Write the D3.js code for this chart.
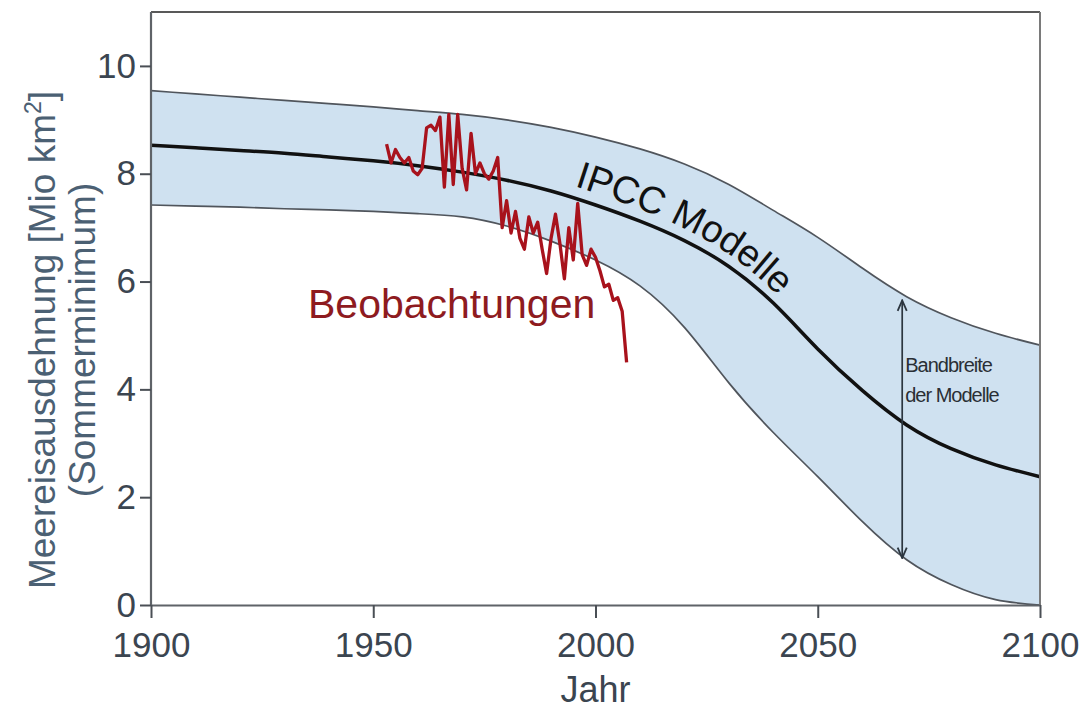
<!DOCTYPE html>
<html><head><meta charset="utf-8">
<script src="https://cdn.jsdelivr.net/npm/d3@7"></script>
<style>
body{margin:0;background:#fff}
svg{display:block}
text{font-family:"Liberation Sans",Arial,Helvetica,sans-serif}
</style>
</head><body>
<svg id="chart" width="1088" height="724"></svg>
<script>
// ---- data ----
const modelYears   = [1900,1910,1920,1930,1940,1950,1960,1970,1980,1990,2000,2010,2020,2030,2040,2050,2060,2070,2080,2090,2100];
const upperBand    = [9.54,9.48,9.42,9.36,9.30,9.24,9.17,9.10,9.00,8.86,8.68,8.46,8.18,7.80,7.32,6.82,6.25,5.72,5.33,5.04,4.82];
const centralModel = [8.53,8.48,8.43,8.38,8.31,8.24,8.15,8.03,7.88,7.68,7.42,7.12,6.76,6.28,5.60,4.75,3.98,3.34,2.90,2.60,2.38];
const lowerBand    = [7.42,7.40,7.38,7.35,7.33,7.30,7.26,7.20,7.03,6.75,6.40,5.92,5.15,4.12,3.20,2.38,1.55,0.84,0.38,0.10,0.00];

const obsYears = d3.range(1953, 2008);
const obsValues = [8.55,8.20,8.45,8.30,8.20,8.30,8.05,7.98,8.10,8.85,
                   8.90,8.80,9.05,7.75,9.10,7.80,9.10,8.10,7.70,8.75,
                   8.00,8.20,8.00,7.90,8.05,8.30,7.00,7.50,6.90,7.30,
                   6.80,6.60,7.20,6.90,7.10,6.60,6.15,6.80,7.25,6.70,
                   6.05,7.00,6.40,7.45,6.50,6.30,6.60,6.45,6.20,5.90,
                   5.95,5.65,5.70,5.45,4.50];

const xTicks = [1900,1950,2000,2050,2100];
const yTicks = [0,2,4,6,8,10];
const xTitle = "Jahr";
const yTitle1 = "Meereisausdehnung [Mio km";
const yTitle2 = "(Sommerminimum)";
const obsLabel = "Beobachtungen";
const modelLabel = "IPCC Modelle";
const rangeLabel = ["Bandbreite", "der Modelle"];
const arrowYear = 2069, arrowTop = 5.65, arrowBottom = 0.87;

// ---- layout ----
const svg = d3.select("#chart");
const L = 151, R = 1040, T = 12, B = 605;
const x = d3.scaleLinear().domain([1900, 2100]).range([L, R]);
const y = d3.scaleLinear().domain([0, 11]).range([B, T]);

svg.append("rect").attr("width",1088).attr("height",724).attr("fill","#fff");

const model = modelYears.map((yr,i)=>({yr, up:upperBand[i], mid:centralModel[i], lo:lowerBand[i]}));
const curve = d3.curveNatural;

// band
svg.append("path").datum(model)
  .attr("d", d3.area().curve(curve).x(d=>x(d.yr)).y0(d=>y(d.lo)).y1(d=>y(d.up)))
  .attr("fill", "#cfe1f0");

// band edges
const edge = key => d3.line().curve(curve).x(d=>x(d.yr)).y(d=>y(d[key]));
svg.append("path").datum(model).attr("d", edge("up")).attr("fill","none").attr("stroke","#50555c").attr("stroke-width",1.7);
svg.append("path").datum(model).attr("d", edge("lo")).attr("fill","none").attr("stroke","#50555c").attr("stroke-width",1.7);

// central line
svg.append("path").datum(model).attr("d", edge("mid")).attr("fill","none").attr("stroke","#111").attr("stroke-width",3.5);

// frame top & right
svg.append("line").attr("x1",L).attr("x2",R).attr("y1",T).attr("y2",T).attr("stroke","#222").attr("stroke-width",1.5);
svg.append("line").attr("x1",R).attr("x2",R).attr("y1",T).attr("y2",B).attr("stroke","#7a7a7a").attr("stroke-width",2);

// axes
const tickColor = "#3b4550";
const gy = svg.append("g").attr("transform",`translate(${L},0)`)
  .call(d3.axisLeft(y).tickValues(yTicks).tickSize(11).tickSizeOuter(0).tickPadding(4));
const gx = svg.append("g").attr("transform",`translate(0,${B})`)
  .call(d3.axisBottom(x).tickValues(xTicks).tickSize(13).tickSizeOuter(0).tickPadding(14).tickFormat(d3.format("d")));
[gx, gy].forEach(g=>{
  g.select(".domain").attr("stroke","#5f6368").attr("stroke-width",2.2);
  g.selectAll(".tick line").attr("stroke","#4a4f55").attr("stroke-width",2);
  g.selectAll(".tick text").attr("fill",tickColor).attr("font-size",35).attr("font-family",'"Liberation Sans",Arial,sans-serif');
});
gy.select(".domain").attr("d", `M0,${T}V${B}`);
gy.selectAll(".tick text").attr("dy","0.32em");

// observations
svg.append("path").datum(obsYears.map((yr,i)=>({yr, v:obsValues[i]})))
  .attr("d", d3.line().x(d=>x(d.yr)).y(d=>y(d.v)))
  .attr("fill","none").attr("stroke","#a8121c").attr("stroke-width",3.3).attr("stroke-linejoin","round");

// labels
svg.append("text").attr("x",308).attr("y",318).attr("fill","#8e1b1f").attr("font-size",41).text(obsLabel);

// IPCC Modelle along curve
const offsetPts = model.filter(d=>d.yr>=1980);
const tp = svg.append("path").attr("id","ipccPath").datum(offsetPts)
  .attr("d", d3.line().curve(curve).x(d=>x(d.yr)).y(d=>y(d.mid)-12))
  .attr("fill","none").attr("stroke","none");
const pnode = tp.node();
let startLen = 0;
const total = pnode.getTotalLength();
for (let l=0; l<total; l+=1){ if (pnode.getPointAtLength(l).x >= 574){ startLen = l; break; } }
svg.append("text").attr("fill","#111").attr("font-size",38)
  .append("textPath").attr("href","#ipccPath").attr("startOffset",startLen).text(modelLabel);

// arrow
const defs = svg.append("defs");
["arrEnd","arrStart"].forEach((id,k)=>{
  defs.append("marker").attr("id",id).attr("viewBox","0 0 10 10").attr("refX",k?1:9).attr("refY",5)
    .attr("markerWidth",13).attr("markerHeight",13).attr("markerUnits","userSpaceOnUse").attr("orient","auto")
    .append("path").attr("d", k? "M9,1.5 L1,5 L9,8.5" : "M1,1.5 L9,5 L1,8.5").attr("fill","none").attr("stroke","#2c3640").attr("stroke-width",1.4);
});
svg.append("line").attr("x1",x(arrowYear)).attr("x2",x(arrowYear)).attr("y1",y(arrowTop)).attr("y2",y(arrowBottom))
  .attr("stroke","#2c3640").attr("stroke-width",1.7)
  .attr("marker-start","url(#arrStart)").attr("marker-end","url(#arrEnd)");
rangeLabel.forEach((t,i)=>{
  svg.append("text").attr("x",x(arrowYear)+3).attr("y",372+i*30).attr("fill","#2a2f35")
    .attr("font-size",20).attr("letter-spacing",-1).text(t);
});

// axis titles
svg.append("text").attr("x",L+(R-L)/2).attr("y",702).attr("text-anchor","middle")
  .attr("fill",tickColor).attr("font-size",36).text(xTitle);
const yt = svg.append("text").attr("transform","translate(55,340) rotate(-90)").attr("text-anchor","middle")
  .attr("fill","#4b6073").attr("font-size",37);
yt.append("tspan").text(yTitle1);
yt.append("tspan").attr("font-size",23).attr("dy",-14).text("2");
yt.append("tspan").attr("dy",14).text("]");
svg.append("text").attr("transform","translate(95,340) rotate(-90)").attr("text-anchor","middle")
  .attr("fill","#4b6073").attr("font-size",37).text(yTitle2);
</script>
</body></html>
